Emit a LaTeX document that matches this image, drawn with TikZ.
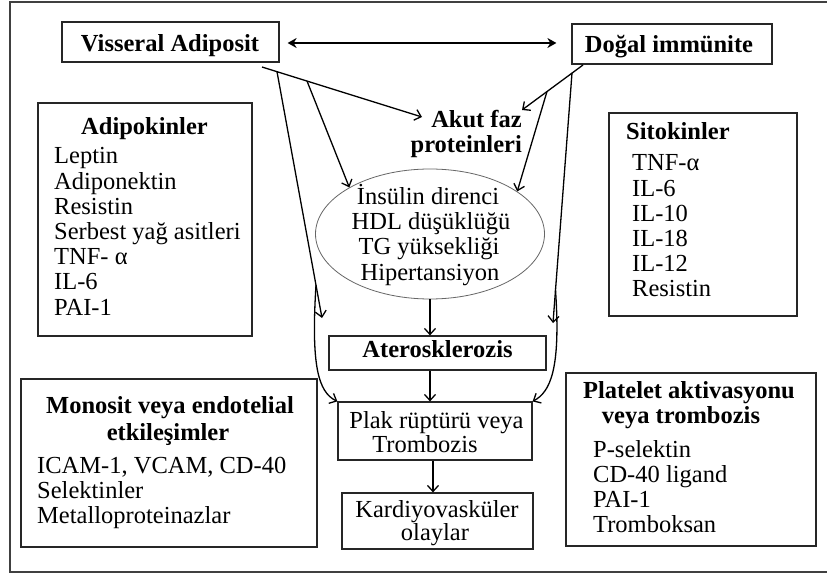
\documentclass[tikz,border=0pt]{standalone}
\usepackage{fontspec}
\setmainfont{Liberation Serif}
\usetikzlibrary{arrows.meta,shapes.geometric,calc}
\tikzset{
  txt/.style={inner sep=0pt, font=\fontsize{24.5}{25.2}\selectfont},
  btxt/.style={txt, font=\fontsize{24.5}{25.2}\selectfont\bfseries},
  box/.style={draw=black!85, line width=1.2pt, inner sep=0pt},
  arr/.style={line width=1.3pt, -{Straight Barb[length=6pt,width=11pt]}},
  dbl/.style={line width=2.6pt, {Stealth[length=9pt,width=10pt]}-{Stealth[length=9pt,width=10pt]}},
}
\begin{document}
\begin{tikzpicture}[x=1pt,y=-1pt]
\useasboundingbox (0,0) rectangle (827,577);
\fill[white] (0,0) rectangle (827,577);
% outer frame
\draw[line width=1.6pt, black!75] (827,2) -- (10,2) -- (10,572) -- (827,572);

% boxes
\node[box, minimum width=217pt, minimum height=40pt] (vis) at (170.5,42) {};
\node[box, minimum width=200pt, minimum height=40pt] (dogal) at (672,44) {};
\node[box, minimum width=214pt, minimum height=233pt] (adipo) at (145,219.5) {};
\node[box, minimum width=188pt, minimum height=203pt] (sito) at (703,214.5) {};
\node[box, minimum width=217pt, minimum height=34pt] (ateros) at (437.5,353) {};
\node[box, minimum width=194pt, minimum height=58pt] (plak) at (435,431) {};
\node[box, minimum width=191pt, minimum height=56pt] (kardio) at (437.5,521) {};
\node[box, minimum width=296pt, minimum height=168pt] (mono) at (169,463) {};
\node[box, minimum width=250pt, minimum height=173pt] (plat) at (691,459.5) {};
\node[draw=black!60, line width=0.8pt, ellipse, minimum width=229pt, minimum height=130pt, inner sep=0pt] (ell) at (430,234) {};

% texts
\node[btxt, anchor=base] (tvis) at (170,52) {Visseral Adiposit};
\node[btxt, anchor=base] (tdog) at (669,53) {Doğal immünite};
\node[btxt, align=right, anchor=east] (akut) at (522,134) {Akut faz\\proteinleri};

\node[btxt, anchor=base] (tadt) at (144.5,135) {Adipokinler};
\node[txt, anchor=base west] (ta1) at (54,164) {Leptin};
\node[txt, anchor=base west] (ta2) at (54,189.2) {Adiponektin};
\node[txt, anchor=base west] (ta3) at (54,214.4) {Resistin};
\node[txt, anchor=base west] (ta4) at (54,239.6) {Serbest yağ asitleri};
\node[txt, anchor=base west] (ta5) at (54,264.8) {TNF- α};
\node[txt, anchor=base west] (ta6) at (54,290) {IL-6};
\node[txt, anchor=base west] (ta7) at (54,315.2) {PAI-1};

\node[btxt, anchor=base west] (tsit) at (626,140) {Sitokinler};
\node[txt, anchor=base west] (ts1) at (632,171) {TNF-α};
\node[txt, anchor=base west] (ts2) at (632,196.2) {IL-6};
\node[txt, anchor=base west] (ts3) at (632,221.4) {IL-10};
\node[txt, anchor=base west] (ts4) at (632,246.6) {IL-18};
\node[txt, anchor=base west] (ts5) at (632,271.8) {IL-12};
\node[txt, anchor=base west] (ts6) at (632,297) {Resistin};

\node[txt, anchor=base] (te1) at (428,205) {İnsülin direnci};
\node[txt, anchor=base] (te2) at (431,230) {HDL düşüklüğü};
\node[txt, anchor=base] (te3) at (429,255) {TG yüksekliği};
\node[txt, anchor=base] (te4) at (430,280) {Hipertansiyon};

\node[btxt, anchor=base] (tat) at (437.5,357) {Aterosklerozis};
\node[txt, anchor=base] (tp1) at (436.5,428) {Plak rüptürü veya};
\node[txt, anchor=base] (tp2) at (425,452) {Trombozis};
\node[txt, anchor=base] (tk1) at (437,517) {Kardiyovasküler};
\node[txt, anchor=base] (tk2) at (435,540) {olaylar};

\node[btxt, anchor=base] (tm1) at (170,413) {Monosit veya endotelial};
\node[btxt, anchor=base] (tm2) at (168,440) {etkileşimler};
\node[txt, anchor=base west] (tm3) at (37,473) {ICAM-1, VCAM, CD-40};
\node[txt, anchor=base west] (tm4) at (37,498) {Selektinler};
\node[txt, anchor=base west] (tm5) at (37,523) {Metalloproteinazlar};

\node[btxt, anchor=base] (tpl1) at (689,398) {Platelet aktivasyonu};
\node[btxt, anchor=base] (tpl2) at (681,423) {veya trombozis};
\node[txt, anchor=base west] (tpl3) at (593,457) {P-selektin};
\node[txt, anchor=base west] (tpl4) at (593,482) {CD-40 ligand};
\node[txt, anchor=base west] (tpl5) at (593,507) {PAI-1};
\node[txt, anchor=base west] (tpl6) at (593,532) {Tromboksan};

% connector points
\coordinate (v0) at (262,67);
\coordinate (v1) at (277,71.7);
\coordinate (v2) at (307,81);
\coordinate (akL) at (422,117);
\coordinate (lt) at (322,318);
\coordinate (lc) at (316,285);
\coordinate (d0) at (583,65);
\coordinate (d1) at (572,73);
\coordinate (d2) at (547,91.5);
\coordinate (akR) at (522,110);
\coordinate (rt) at (553,323);
\coordinate (rc) at (555.5,290);

% connectors
\draw[dbl] ($(vis.east)+(8,1)$) -- ($(dogal.west)+(-15,-1)$);
\draw[arr] (v0) -- (akL);
\draw[arr] (v2) -- (ell.150);
\draw[arr] (v1) -- (lt);
\draw[arr] (lc) .. controls (311,365) and (318,392) .. (plak.north west);
\draw[arr] (d0) -- (akR);
\draw[arr] (d2) -- (ell.26);
\draw[arr] (d1) -- (rt);
\draw[arr] (rc) .. controls (561,370) and (550,392) .. (plak.north east);
\draw[arr] (ell.south) -- (ell.south |- ateros.north);
\draw[arr] (ateros.south -| ell.south) -- (ell.south |- plak.north);
\draw[arr] ($(plak.south)+(-2,0)$) -- ($(plak.south |- kardio.north)+(-2,0)$);
\end{tikzpicture}
\end{document}
